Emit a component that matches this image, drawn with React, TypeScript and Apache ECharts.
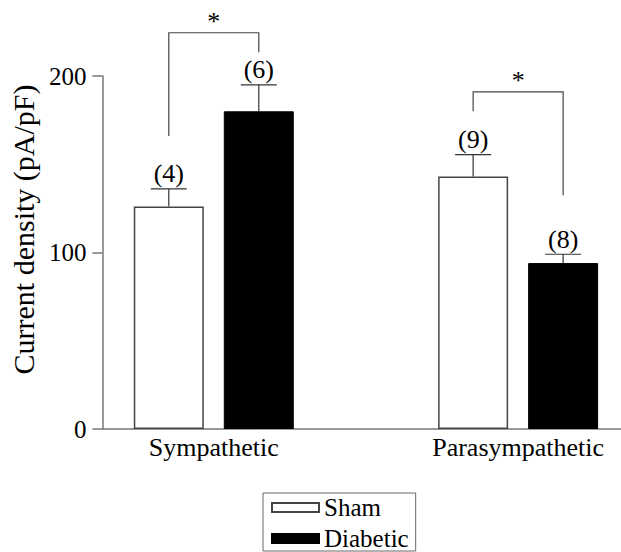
import React, { useEffect, useRef } from "react";
import * as echarts from "echarts";

// Groups on the x axis (positions 0 and 1)
const groups = ["Sympathetic", "Parasympathetic"];

// Mean current density (pA/pF), SEM and number of cells
const shamMean = [126, 143];
const shamSem = [10, 12.5];
const shamN = [4, 9];
const diabeticMean = [180, 94];
const diabeticSem = [15, 5];
const diabeticN = [6, 8];

// Significance brackets: top of bracket, lower end of left leg, lower end of right leg
const bracketTop = [224.5, 191];
const bracketLeftEnd = [166, 180];
const bracketRightEnd = [213.5, 132.5];
const bracketMark = ["*", "*"];

const yTicks = [0, 100, 200];

const FONT = "'Liberation Serif', 'Times New Roman', serif";
const BAR_W = 70;
const BAR_GAP = 20;
const SIDE = (BAR_W + BAR_GAP) / 2;

function errorSeries(name: string, mean: number[], sem: number[], n: number[], offset: number) {
  return {
    type: "custom",
    name,
    clip: false,
    silent: true,
    data: groups.map((_, g) => [g, mean[g], sem[g], n[g]]),
    renderItem: (params: any, api: any) => {
      const pos = api.value(0);
      const m = api.value(1);
      const e = api.value(2);
      const count = api.value(3);
      const base = api.coord([pos, m]);
      const tip = api.coord([pos, m + e]);
      const x = base[0] + offset;
      const stroke = { stroke: "#333", lineWidth: 1.2 };
      return {
        type: "group",
        children: [
          { type: "line", shape: { x1: x, y1: base[1], x2: x, y2: tip[1] }, style: stroke },
          { type: "line", shape: { x1: x - 18, y1: tip[1], x2: x + 18, y2: tip[1] }, style: stroke },
          {
            type: "text",
            x,
            y: tip[1] - 15,
            style: {
              text: "(" + count + ")",
              fontFamily: FONT,
              fontSize: 26,
              fill: "#000",
              align: "center",
              verticalAlign: "middle",
            },
          },
        ],
      };
    },
  };
}

const bracketSeries = {
  type: "custom",
  name: "significance",
  clip: false,
  silent: true,
  data: groups.map((_, g) => [g, bracketTop[g], bracketLeftEnd[g], bracketRightEnd[g]]),
  renderItem: (params: any, api: any) => {
    const pos = api.value(0);
    const top = api.coord([pos, api.value(1)]);
    const leftEnd = api.coord([pos, api.value(2)]);
    const rightEnd = api.coord([pos, api.value(3)]);
    const xl = top[0] - SIDE;
    const xr = top[0] + SIDE;
    return {
      type: "group",
      children: [
        {
          type: "polyline",
          shape: { points: [[xl, leftEnd[1]], [xl, top[1]], [xr, top[1]], [xr, rightEnd[1]]] },
          style: { stroke: "#444", lineWidth: 1.2, fill: "none" },
        },
        {
          type: "text",
          x: top[0],
          y: top[1] - 11,
          style: {
            text: bracketMark[params.dataIndex],
            fontFamily: FONT,
            fontSize: 26,
            fill: "#000",
            align: "center",
            verticalAlign: "middle",
          },
        },
      ],
    };
  },
};

const isGroupPos = (v: number) =>
  Math.abs(v - Math.round(v)) < 1e-6 && Math.round(v) >= 0 && Math.round(v) < groups.length;

export default function App() {
  const ref = useRef<HTMLDivElement>(null);

  useEffect(() => {
    if (!ref.current) return;
    const chart = echarts.init(ref.current, undefined, { renderer: "svg" });
    chart.setOption({
      animation: false,
      backgroundColor: "#fff",
      textStyle: { fontFamily: FONT },
      grid: { left: 102, top: 76, bottom: 123, right: 0 },
      legend: {
        data: ["Sham", "Diabetic"],
        orient: "vertical",
        left: 263,
        top: 493,
        itemWidth: 47,
        itemHeight: 9,
        itemGap: 6,
        padding: [2, 7, 0, 8],
        borderColor: "#666",
        borderWidth: 1,
        selectedMode: false,
        icon: "rect",
        textStyle: { fontFamily: FONT, fontSize: 25, lineHeight: 25, color: "#000" },
      },
      xAxis: {
        type: "value",
        min: -0.366,
        max: 1.338,
        splitNumber: 3,
        splitLine: { show: false },
        axisLine: { show: true, onZero: false, lineStyle: { color: "#777", width: 1.5 } },
        axisTick: { show: false },
        axisLabel: {
          showMinLabel: false,
          showMaxLabel: false,
          fontFamily: FONT,
          fontSize: 26,
          color: "#000",
          margin: 5,
          formatter: (v: number) => (isGroupPos(v) ? groups[Math.round(v)] : ""),
        },
      },
      yAxis: {
        type: "value",
        min: yTicks[0],
        max: yTicks[yTicks.length - 1],
        interval: yTicks[1] - yTicks[0],
        name: "Current density (pA/pF)",
        nameLocation: "middle",
        nameGap: 63,
        nameTextStyle: { fontFamily: FONT, fontSize: 30, color: "#000", padding: [0, 0, 0, 46] },
        axisLine: { show: true, onZero: false, lineStyle: { color: "#777", width: 1.5 } },
        axisTick: { show: true, length: 10, lineStyle: { color: "#777", width: 1.5 } },
        axisLabel: { fontFamily: FONT, fontSize: 25, color: "#000", margin: 16 },
        splitLine: { show: false },
      },
      series: [
        {
          type: "bar",
          name: "Sham",
          data: groups.map((_, g) => [g, shamMean[g]]),
          barWidth: BAR_W,
          barGap: (BAR_GAP / BAR_W) * 100 + "%",
          itemStyle: { color: "#fff", borderColor: "#444", borderWidth: 1.5 },
        },
        {
          type: "bar",
          name: "Diabetic",
          data: groups.map((_, g) => [g, diabeticMean[g]]),
          barWidth: BAR_W,
          barGap: (BAR_GAP / BAR_W) * 100 + "%",
          itemStyle: { color: "#000", borderColor: "#000", borderWidth: 1 },
        },
        errorSeries("Sham SEM", shamMean, shamSem, shamN, -SIDE),
        errorSeries("Diabetic SEM", diabeticMean, diabeticSem, diabeticN, SIDE),
        bracketSeries,
      ],
    });
    return () => chart.dispose();
  }, []);

  return (
    <div
      ref={ref}
      style={{ position: "fixed", left: 0, top: 0, width: 621, height: 552 }}
    />
  );
}
